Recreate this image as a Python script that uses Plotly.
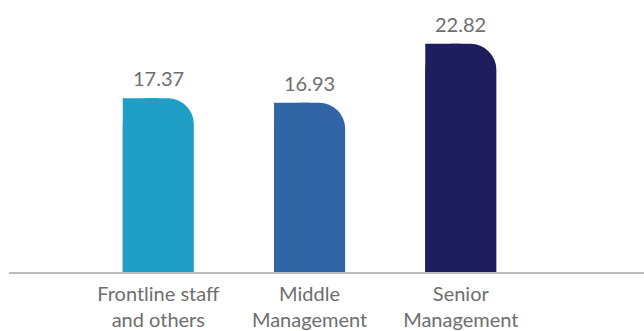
import plotly.graph_objects as go

categories = ["Frontline staff<br>and others", "Middle<br>Management", "Senior<br>Management"]
values = [17.37, 16.93, 22.82]
colors = ["#1F9FC6", "#3165A5", "#1E1D5E"]

W = 0.47
FONT = dict(family="Lato", size=20, color="#6E6E6E")

fig = go.Figure()
fig.add_trace(go.Bar(x=[0, 1, 2], y=values, width=W, offset=-W / 2,
                     marker=dict(color=colors, cornerradius=26, line=dict(width=0)),
                     hoverinfo="skip"))
fig.add_trace(go.Bar(x=[0, 1, 2], y=values, width=W / 2, offset=-W / 2,
                     marker=dict(color=colors, line=dict(width=0)),
                     hoverinfo="skip"))

for i, v in enumerate(values):
    fig.add_annotation(x=i, y=v, text=f"{v:.2f}", showarrow=False,
                       yanchor="bottom", yshift=6, font=FONT)

fig.update_layout(
    width=644, height=331,
    margin=dict(l=9, r=0, t=18, b=55),
    barmode="overlay",
    showlegend=False,
    plot_bgcolor="white", paper_bgcolor="white",
    font=FONT,
    xaxis=dict(range=[-0.987, 3.211], tickmode="array", tickvals=[0, 1, 2],
               ticktext=categories, showgrid=False, zeroline=False,
               showline=True, linecolor="#BBBBBB", linewidth=2,
               ticks="outside", ticklen=3, tickcolor="rgba(0,0,0,0)",
               tickfont=FONT),
    yaxis=dict(range=[0, 25.4], visible=False, showgrid=False, zeroline=False),
)

fig.write_html("out.html")
